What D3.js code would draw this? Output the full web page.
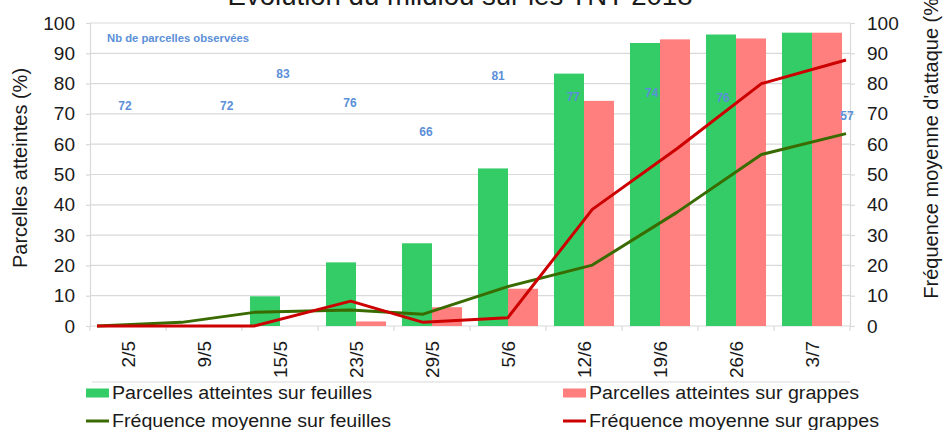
<!DOCTYPE html>
<html><head><meta charset="utf-8">
<script src="https://cdn.jsdelivr.net/npm/d3@7"></script>
<style>body{margin:0;background:#fff}svg{display:block;font-family:"Liberation Sans",Arial,sans-serif}</style>
</head><body><svg id="c" width="944" height="430"></svg>
<script>
const categories = ["2/5","9/5","15/5","23/5","29/5","5/6","12/6","19/6","26/6","3/7"];
const dates = ["2018-05-02","2018-05-09","2018-05-15","2018-05-23","2018-05-29","2018-06-05","2018-06-12","2018-06-19","2018-06-26","2018-07-03"];
const parcFeuilles = [0, 0, 9.8, 21, 27.3, 52, 83.3, 93.4, 96.2, 96.8];
const parcGrappes  = [0, 0, 0, 1.5, 6.2, 12.3, 74.3, 94.6, 94.9, 96.8];
const freqFeuilles = [0, 1.2, 4.5, 5.3, 3.9, 13.0, 20.1, 37.5, 56.6, 63.5];
const freqGrappes  = [0, 0, 0, 8.2, 1.2, 2.7, 38.5, 58.5, 80, 87.8];
const nbParcelles  = [72, 72, 83, 76, 66, 81, 77, 74, 76, 57];
const nbPosIndex   = [-0.04, 1.30, 2.04, 2.92, 3.92, 4.87, 5.86, 6.89, 7.83, 9.46];
const nbPosValue   = [72.6, 72.6, 83.2, 73.6, 64.0, 82.5, 75.6, 76.9, 75.2, 69.3];
const yTicks = [0,10,20,30,40,50,60,70,80,90,100];
const title = "Evolution du mildiou sur les TNT 2018";
const yLeftTitle = "Parcelles atteintes (%)";
const yRightTitle = "Fréquence moyenne d'attaque (%)";
const nbTitle = "Nb de parcelles observées";
const legendItems = ["Parcelles atteintes sur feuilles","Parcelles atteintes sur grappes","Fréquence moyenne sur feuilles","Fréquence moyenne sur grappes"];

const C = {green:"#33CC66", pink:"#FF7F7F", dgreen:"#3A6B00", red:"#CC0000", grid:"#D9D9D9", blue:"#5B8FD8", text:"#1a1a1a"};
const svg = d3.select("#c");
const L = 90, R = 850, T = 23, B = 326;

const x = d3.scaleBand().domain(categories).range([L, R]).paddingInner(0).paddingOuter(0);
const bw = x.bandwidth() * 0.395;
const xt = d3.scaleTime().domain([new Date(dates[0]), new Date(dates[dates.length-1])]).range([L + 7, R - 4]);
const y = d3.scaleLinear().domain([0, 100]).range([B, T]);

// gridlines
svg.append("g").selectAll("line").data(yTicks.filter(d => d > 0)).join("line")
  .attr("x1", L).attr("x2", R).attr("y1", d => y(d)).attr("y2", d => y(d))
  .attr("stroke", C.grid).attr("stroke-width", 1.2);

// axes
const axL = svg.append("g").attr("transform", `translate(${L},0)`)
  .call(d3.axisLeft(y).tickValues(yTicks).tickSize(4).tickPadding(11));
const axR = svg.append("g").attr("transform", `translate(${R},0)`)
  .call(d3.axisRight(y).tickValues(yTicks).tickSize(5).tickPadding(12));
[axL, axR].forEach(a => {
  a.selectAll("path,line").attr("stroke", C.grid).attr("stroke-width", 1.2);
  a.selectAll("text").attr("font-size", 19).attr("fill", C.text).attr("font-family", "Liberation Sans, Arial");
});

// bottom axis with ticks at band boundaries
svg.append("line").attr("x1", L).attr("x2", R).attr("y1", B).attr("y2", B).attr("stroke", C.grid).attr("stroke-width", 1.2);
svg.append("g").selectAll("line").data(categories.map(c => x(c)).concat([R])).join("line")
  .attr("x1", d => d).attr("x2", d => d).attr("y1", B).attr("y2", B + 5).attr("stroke", C.grid).attr("stroke-width", 1.2);
svg.append("g").selectAll("text").data(categories).join("text")
  .attr("transform", d => `translate(${x(d) + x.bandwidth()/2},341) rotate(-90)`)
  .attr("text-anchor", "end").attr("dy", "0.35em").attr("font-size", 19).attr("fill", C.text).text(d => d);

// bars
const cx = c => x(c) + x.bandwidth()/2;
svg.append("g").selectAll("rect").data(categories).join("rect")
  .attr("x", c => cx(c) - bw).attr("width", bw)
  .attr("y", (c,i) => y(parcFeuilles[i])).attr("height", (c,i) => B - y(parcFeuilles[i]))
  .attr("fill", C.green);
svg.append("g").selectAll("rect").data(categories).join("rect")
  .attr("x", c => cx(c)).attr("width", bw)
  .attr("y", (c,i) => y(parcGrappes[i])).attr("height", (c,i) => B - y(parcGrappes[i]))
  .attr("fill", C.pink);

// lines
const line = d3.line().x((d,i) => xt(new Date(dates[i]))).y(d => y(d));
svg.append("path").datum(freqFeuilles).attr("d", line).attr("fill", "none").attr("stroke", C.dgreen).attr("stroke-width", 3).attr("stroke-linejoin", "round");
svg.append("path").datum(freqGrappes).attr("d", line).attr("fill", "none").attr("stroke", C.red).attr("stroke-width", 3).attr("stroke-linejoin", "round");

// annotations
svg.append("text").attr("x", 107).attr("y", y(95.1)).attr("font-size", 11).attr("font-weight", "bold")
  .attr("fill", C.blue).attr("textLength", 142).attr("lengthAdjust", "spacingAndGlyphs").attr("dy", "0.35em").text(nbTitle);
svg.append("g").selectAll("text").data(nbParcelles).join("text")
  .attr("x", (d,i) => x(categories[0]) + x.bandwidth()/2 + nbPosIndex[i] * x.step())
  .attr("y", (d,i) => y(nbPosValue[i])).attr("dy", "0.35em")
  .attr("text-anchor", "middle").attr("font-size", 12).attr("font-weight", "bold").attr("fill", C.blue).text(d => d);

// titles
svg.append("text").attr("x", 460).attr("y", 5).attr("text-anchor", "middle").attr("font-size", 27)
  .attr("fill", C.text).attr("textLength", 465).attr("lengthAdjust", "spacingAndGlyphs").text(title);
svg.append("text").attr("transform", "translate(20,168) rotate(-90)").attr("text-anchor", "middle")
  .attr("dy", "0.35em").attr("font-size", 20).attr("fill", C.text).text(yLeftTitle);
svg.append("text").attr("transform", "translate(931,145) rotate(-90)").attr("text-anchor", "middle")
  .attr("dy", "0.35em").attr("font-size", 20).attr("fill", C.text).text(yRightTitle);

// legend
svg.append("line").attr("x1", 92).attr("x2", R).attr("y1", 382).attr("y2", 382).attr("stroke", C.grid).attr("stroke-width", 1.2);
const leg = [
  {t: legendItems[0], x: 86, y: 393, type: "rect", c: C.green, w: 260},
  {t: legendItems[1], x: 563, y: 393, type: "rect", c: C.pink, w: 270},
  {t: legendItems[2], x: 86, y: 421, type: "line", c: C.dgreen, w: 279},
  {t: legendItems[3], x: 563, y: 421, type: "line", c: C.red, w: 290}
];
leg.forEach(d => {
  if (d.type === "rect") svg.append("rect").attr("x", d.x).attr("y", d.y - 4.5).attr("width", 23).attr("height", 9).attr("fill", d.c);
  else svg.append("line").attr("x1", d.x).attr("x2", d.x + 23).attr("y1", d.y).attr("y2", d.y).attr("stroke", d.c).attr("stroke-width", 3);
  svg.append("text").attr("x", d.x + 26).attr("y", d.y).attr("dy", "0.35em").attr("font-size", 18)
    .attr("fill", C.text).attr("textLength", d.w).attr("lengthAdjust", "spacingAndGlyphs").text(d.t);
});
</script></body></html>
